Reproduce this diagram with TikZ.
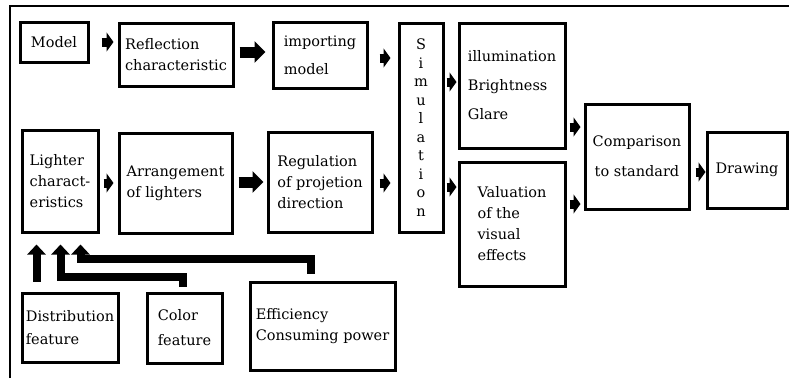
\documentclass[tikz,border=0pt]{standalone}
\usepackage{fontspec}
\setmainfont{DejaVu Serif}
\usepackage{tikz}
\usetikzlibrary{arrows.meta, positioning}

\begin{document}
\begin{tikzpicture}
  [
    x=1pt, y=-1pt,
    Box/.style={draw=black, line width=3pt, inner sep=0pt, align=left,
      font=\fontsize{14.5}{21}\selectfont},
    SmallArr/.style={draw, line width=9pt, -{Triangle[length=7pt, width=19pt]}},
    BigArr/.style={draw, line width=11pt, -{Triangle[length=11pt, width=21pt]}},
    FeedArr/.style={draw, line width=8pt, line join=miter, -{Triangle[length=10pt, width=18pt]}}
  ]
  \useasboundingbox (0,0) rectangle (789,378);
  \draw[line width=1.5pt] (10,378) -- (10,6) -- (789,6);

  % Nodes
  \node[Box, minimum width=68, minimum height=40] (model) at(54, 42) {Model};
  \node[Box, minimum width=114, minimum height=63] (refl) at(176, 54.5) {Reflection\\characteristic};
  \node[Box, minimum width=94, minimum height=66] (import) at(320, 55) {importing\\[7pt]model};
  \node[Box, minimum width=44, minimum height=209, align=center,
    font=\fontsize{14.5}{18.5}\selectfont] (sim) at(421, 127.5) {S\\i\\m\\u\\l\\a\\t\\i\\o\\n};
  \node[Box, minimum width=106, minimum height=125] (illum) at(512, 85.5) {illumination\\[8pt]Brightness\\[8pt]Glare};
  \node[Box, minimum width=106, minimum height=124] (valu) at(512, 224) {Valuation\\of the\\visual\\effects};
  \node[Box, minimum width=104, minimum height=105, align=center] (comp) at(637, 156.5) {Comparison\\[9pt]to standard};
  \node[Box, minimum width=80, minimum height=76] (drawing) at(747, 170) {Drawing};

  \node[Box, minimum width=76, minimum height=102] (lighter) at(60, 181) {Lighter\\charact-\\eristics};
  \node[Box, minimum width=113, minimum height=100] (arrange) at(175.5, 183) {Arrangement\\of lighters};
  \node[Box, minimum width=104, minimum height=100] (regul) at(320, 182) {Regulation\\of projetion\\direction};

  \node[Box, minimum width=96, minimum height=69] (distrib) at(70, 327.5) {Distribution\\[2pt]feature};
  \node[Box, minimum width=75, minimum height=70] (colorf) at(184.5, 328) {Color\\[4pt]feature};
  \node[Box, minimum width=145, minimum height=88] (effic) at(322.5, 326) {Efficiency\\Consuming power};

  % Lines
  \path[SmallArr, shorten <=12pt, shorten >=4pt] (model.east) -- (model.east -| refl.west);
  \path[BigArr, shorten <=5pt, shorten >=6pt] (refl.east |- 0,52) -- (import.west |- 0,52);
  \path[SmallArr, shorten <=11pt, shorten >=7pt] (import.east |- 0,58) -- (sim.west |- 0,58);
  \path[SmallArr, shorten <=4pt, shorten >=4pt] (lighter.east |- 0,183) -- (arrange.west |- 0,183);
  \path[BigArr, shorten <=5pt, shorten >=3pt] (arrange.east |- 0,182) -- (regul.west |- 0,182);
  \path[SmallArr, shorten <=6pt, shorten >=7pt] (regul.east |- 0,183) -- (sim.west |- 0,183);
  \path[SmallArr, shorten <=2pt, shorten >=1pt] (sim.east |- 0,82) -- (illum.west |- 0,82);
  \path[SmallArr, shorten <=2pt, shorten >=1pt] (sim.east |- 0,187) -- (valu.west |- 0,187);
  \path[SmallArr, shorten <=3pt, shorten >=3pt] (illum.east |- 0,127) -- (comp.west |- 0,127);
  \path[SmallArr, shorten <=3pt, shorten >=3pt] (valu.east |- 0,204) -- (comp.west |- 0,204);
  \path[SmallArr, shorten <=5pt, shorten >=0pt] (comp.east |- 0,172) -- (drawing.west |- 0,172);

  \path[FeedArr, shorten <=10pt, shorten >=11pt] ([xshift=16pt]distrib.north west) -- ([xshift=16pt]lighter.south west);
  \path[FeedArr, shorten <=5pt, shorten >=11pt] ([xshift=-2pt]colorf.north) -- ++(0,-15) -| ([xshift=40pt]lighter.south west);
  \path[FeedArr, shorten <=7pt, shorten >=11pt] ([xshift=-12pt]effic.north) -- ++(0,-22) -| ([xshift=60pt]lighter.south west);

\end{tikzpicture}
\end{document}
